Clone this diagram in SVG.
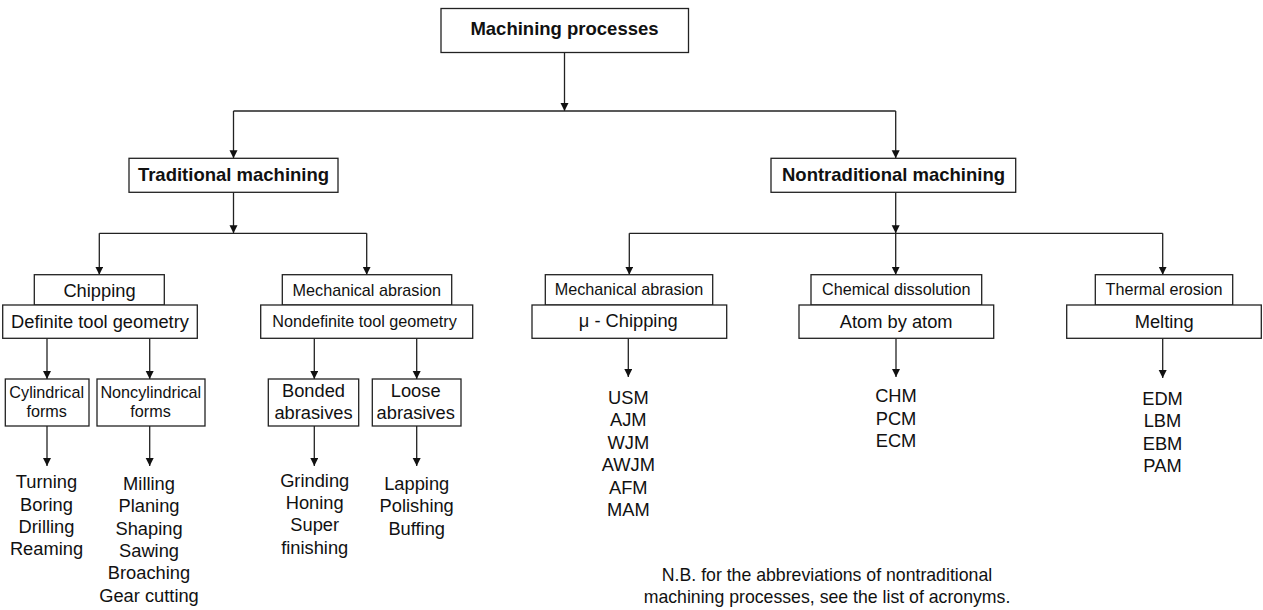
<svg xmlns="http://www.w3.org/2000/svg" width="1263" height="610" viewBox="0 0 1263 610">
<defs>
<style>
.box{fill:#fff;stroke:#222;stroke-width:1.3}
.t{font-family:"Liberation Sans",Arial,Helvetica,sans-serif;fill:#111;text-anchor:middle}
.b{font-weight:bold;font-size:18.5px}
.l{font-size:18.3px}
.s{font-size:16.2px}
.n{font-size:17.7px}
.c{stroke:#222;stroke-width:1.3;fill:none}
.a{marker-end:url(#ah)}
</style>
<marker id="ah" markerUnits="userSpaceOnUse" markerWidth="9" markerHeight="9" refX="8" refY="4" orient="auto">
<path d="M0,0 L8,4 L0,8 z" fill="#111"/>
</marker>
</defs>
<rect width="1263" height="610" fill="#fff"/>

<g id="connectors">
<path class="c a" d="M564.5,52.5 V111"/>
<path class="c" d="M233.5,111 H895.7"/>
<path class="c a" d="M233.5,111 V158.3"/>
<path class="c a" d="M895.7,111 V158.3"/>
<path class="c a" d="M233.5,192.3 V233.3"/>
<path class="c" d="M99.3,233.3 H366.7"/>
<path class="c a" d="M99.3,233.3 V274.7"/>
<path class="c a" d="M366.7,233.3 V274.7"/>
<path class="c a" d="M895.7,192.3 V233.3"/>
<path class="c" d="M629.3,233.3 H1162.7"/>
<path class="c a" d="M629.3,233.3 V274.7"/>
<path class="c a" d="M895.7,233.3 V274.7"/>
<path class="c a" d="M1162.7,233.3 V274.7"/>
<path class="c a" d="M47,338.3 V379"/>
<path class="c a" d="M149.7,338.3 V379"/>
<path class="c a" d="M314.3,338.3 V379"/>
<path class="c a" d="M416.7,338.3 V379"/>
<path class="c a" d="M47,426 V466"/>
<path class="c a" d="M149.7,426 V466"/>
<path class="c a" d="M314.3,426 V466"/>
<path class="c a" d="M416.7,426 V466"/>
<path class="c a" d="M628.3,338.3 V377"/>
<path class="c a" d="M896,338.3 V377"/>
<path class="c a" d="M1162.7,338.3 V378"/>
</g>

<g id="machining-processes">
<rect class="box" x="441" y="8.5" width="247.5" height="44"/>
<text class="t b" x="564.5" y="35">Machining processes</text>
</g>

<g id="traditional">
<rect class="box" x="129" y="158.3" width="209" height="34"/>
<text class="t b" x="233.5" y="181">Traditional machining</text>
</g>

<g id="nontraditional">
<rect class="box" x="771" y="158.3" width="244.7" height="34"/>
<text class="t b" x="893.5" y="181">Nontraditional machining</text>
</g>

<g id="chipping">
<rect class="box" x="34.3" y="274.7" width="130" height="30.3"/>
<rect class="box" x="2.7" y="305" width="194.6" height="33.3"/>
<text class="t l" x="99.5" y="296.5">Chipping</text>
<text class="t l" x="100" y="328">Definite tool geometry</text>
</g>

<g id="mech-abrasion-trad">
<rect class="box" x="282.3" y="274.7" width="169.4" height="30.3"/>
<rect class="box" x="260.7" y="305" width="212" height="33.3"/>
<text class="t s" x="366.8" y="295.5">Mechanical abrasion</text>
<text class="t s" x="364.5" y="327">Nondefinite tool geometry</text>
</g>

<g id="cylindrical">
<rect class="box" x="5.3" y="379" width="83.7" height="47"/>
<text class="t s" x="46.7" y="398.3">Cylindrical</text>
<text class="t s" x="46.7" y="416.7">forms</text>
</g>

<g id="noncylindrical">
<rect class="box" x="97" y="379" width="108" height="47"/>
<text class="t s" x="150.8" y="398.3">Noncylindrical</text>
<text class="t s" x="150.5" y="416.7">forms</text>
</g>

<g id="bonded">
<rect class="box" x="268.3" y="379" width="90.4" height="47"/>
<text class="t l" x="313.5" y="396.7">Bonded</text>
<text class="t l" x="313.5" y="419.3">abrasives</text>
</g>

<g id="loose">
<rect class="box" x="372.3" y="379" width="88.7" height="47"/>
<text class="t l" x="415.7" y="396.7">Loose</text>
<text class="t l" x="415.7" y="419.3">abrasives</text>
</g>

<g id="list-cylindrical">
<text class="t l" x="46.5" y="488.3">Turning</text>
<text class="t l" x="46.5" y="510.6">Boring</text>
<text class="t l" x="46.5" y="533">Drilling</text>
<text class="t l" x="46.5" y="555.3">Reaming</text>
</g>

<g id="list-noncylindrical">
<text class="t l" x="149" y="490">Milling</text>
<text class="t l" x="149" y="512.3">Planing</text>
<text class="t l" x="149" y="534.7">Shaping</text>
<text class="t l" x="149" y="557">Sawing</text>
<text class="t l" x="149" y="579.3">Broaching</text>
<text class="t l" x="149" y="601.7">Gear cutting</text>
</g>

<g id="list-bonded">
<text class="t l" x="314.7" y="486.7">Grinding</text>
<text class="t l" x="314.7" y="509">Honing</text>
<text class="t l" x="314.7" y="531.3">Super</text>
<text class="t l" x="314.7" y="553.7">finishing</text>
</g>

<g id="list-loose">
<text class="t l" x="416.7" y="490">Lapping</text>
<text class="t l" x="416.7" y="512.3">Polishing</text>
<text class="t l" x="416.7" y="534.7">Buffing</text>
</g>

<g id="mech-abrasion-nontrad">
<rect class="box" x="545.3" y="274.7" width="167.4" height="30.3"/>
<rect class="box" x="532" y="305" width="194.7" height="33.3"/>
<text class="t s" x="629" y="295.3">Mechanical abrasion</text>
<text class="t l" x="628.3" y="327">μ - Chipping</text>
</g>

<g id="chemical">
<rect class="box" x="811" y="274.7" width="170.7" height="30.3"/>
<rect class="box" x="799" y="305" width="194.7" height="33.3"/>
<text class="t s" x="896.2" y="295.3">Chemical dissolution</text>
<text class="t l" x="896.2" y="327.7">Atom by atom</text>
</g>

<g id="thermal">
<rect class="box" x="1095.3" y="274.7" width="137.4" height="30.3"/>
<rect class="box" x="1066.7" y="305" width="194.6" height="33.3"/>
<text class="t s" x="1164" y="295.3">Thermal erosion</text>
<text class="t l" x="1164.2" y="327.7">Melting</text>
</g>

<g id="list-mechanical">
<text class="t l" x="628.3" y="404">USM</text>
<text class="t l" x="628.3" y="426.4">AJM</text>
<text class="t l" x="628.3" y="448.8">WJM</text>
<text class="t l" x="628.3" y="471.2">AWJM</text>
<text class="t l" x="628.3" y="493.6">AFM</text>
<text class="t l" x="628.3" y="516">MAM</text>
</g>

<g id="list-chemical">
<text class="t l" x="896" y="402.3">CHM</text>
<text class="t l" x="896" y="424.6">PCM</text>
<text class="t l" x="896" y="447">ECM</text>
</g>

<g id="list-thermal">
<text class="t l" x="1162.5" y="405">EDM</text>
<text class="t l" x="1162.5" y="427.3">LBM</text>
<text class="t l" x="1162.5" y="449.7">EBM</text>
<text class="t l" x="1162.5" y="472">PAM</text>
</g>

<g id="note">
<text class="t n" x="827" y="581">N.B. for the abbreviations of nontraditional</text>
<text class="t n" x="827" y="603">machining processes, see the list of acronyms.</text>
</g>
</svg>
